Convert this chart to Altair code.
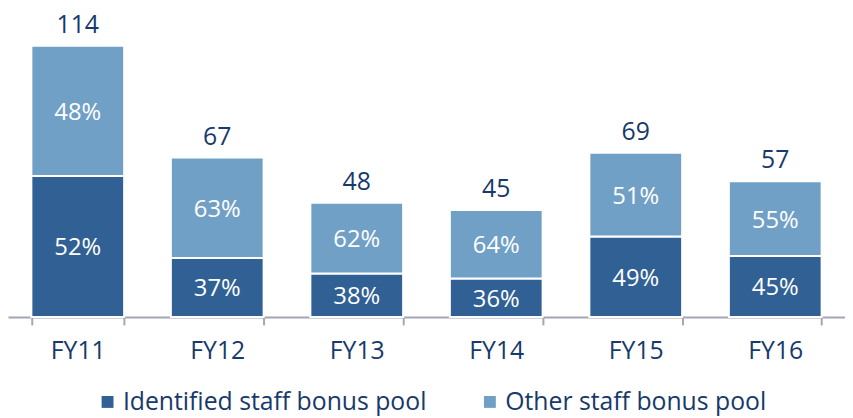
import altair as alt
import pandas as pd

years = ["FY11", "FY12", "FY13", "FY14", "FY15", "FY16"]
totals = [114, 67, 48, 45, 69, 57]
identified_pct = [52, 37, 38, 36, 49, 45]
other_pct = [48, 63, 62, 64, 51, 55]
series = ["Identified staff bonus pool", "Other staff bonus pool"]
colors = ["#316194", "#71A0C6"]
navy = "#17396B"
FONT = "Open Sans"

rows = []
for y, t, a, b in zip(years, totals, identified_pct, other_pct):
    v1 = t * a / 100.0
    v2 = t * b / 100.0
    rows.append({"year": y, "series": series[0], "ord": 0, "y0": 0, "y1": v1,
                 "mid": v1 / 2, "pct": f"{a}%"})
    rows.append({"year": y, "series": series[1], "ord": 1, "y0": v1, "y1": v1 + v2,
                 "mid": v1 + v2 / 2, "pct": f"{b}%"})
seg = pd.DataFrame(rows)
tot = pd.DataFrame({"year": years, "total": totals})

x = alt.X("year:N", sort=years, title=None,
          scale=alt.Scale(paddingInner=0.335, paddingOuter=0.1675),
          axis=alt.Axis(labelAngle=0, labelFont=FONT, labelFontSize=25, labelColor=navy,
                        labelBaseline="alphabetic", labelPadding=34,
                        domainColor="#A3A6B4", domainWidth=2, tickColor="#A3A6B4",
                        tickWidth=2, tickSize=8, tickBand="extent"))
yscale = alt.Scale(domain=[0, 129], nice=False, zero=True)

bars = alt.Chart(seg).mark_bar(stroke="white", strokeWidth=2).encode(
    x=x,
    y=alt.Y("y0:Q", scale=yscale, axis=None),
    y2="y1:Q",
    color=alt.Color("series:N", scale=alt.Scale(domain=series, range=colors),
                    legend=alt.Legend(title=None, orient="none", direction="horizontal",
                                      legendX=88, legendY=383, symbolType="square",
                                      symbolSize=144, symbolStrokeWidth=0,
                                      labelFont=FONT, labelFontSize=25, labelColor=navy,
                                      labelOffset=3, labelLimit=0, columnPadding=51,
                                      padding=0)),
    order="ord:Q",
)

pct_text = alt.Chart(seg).mark_text(color="white", font=FONT, fontSize=24,
                                    baseline="middle", dy=2).encode(
    x=alt.X("year:N", sort=years),
    y=alt.Y("mid:Q", scale=yscale),
    text="pct:N",
)

tot_text = alt.Chart(tot).mark_text(color=navy, font=FONT, fontSize=25,
                                    baseline="alphabetic", dy=-13).encode(
    x=alt.X("year:N", sort=years),
    y=alt.Y("total:Q", scale=yscale),
    text="total:Q",
)

chart = alt.layer(bars, pct_text, tot_text).properties(
    width=845, height=310,
    autosize=alt.AutoSizeParams(type="none"),
    padding={"left": 0, "top": 0, "right": 0, "bottom": 100},
).configure_view(stroke=None)

chart.save("out.html", embed_options={"renderer": "svg", "actions": False})
